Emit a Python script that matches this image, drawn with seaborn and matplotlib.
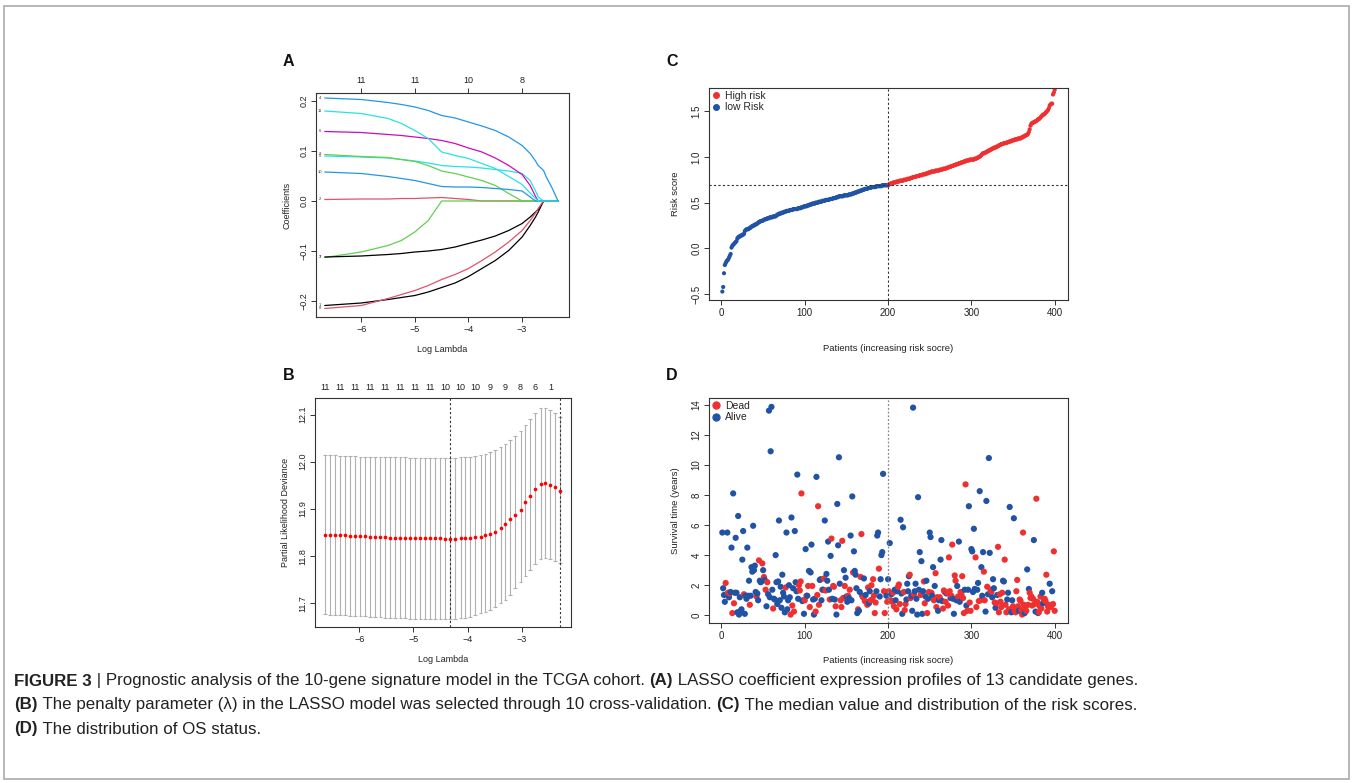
import numpy as np
import pandas as pd
import matplotlib
matplotlib.use("Agg")
import matplotlib.pyplot as plt
import seaborn as sns
from matplotlib.patches import Rectangle
from matplotlib.lines import Line2D

sns.set_theme(style="white")
plt.rcParams['font.family'] = ['Liberation Sans', 'DejaVu Sans']

# ---------------- Panel A: LASSO coefficient paths ----------------
lasso_loglambda = [-6.68, -6.0, -5.5, -5.25, -5.0, -4.75, -4.5, -4.25, -4.0, -3.75,
                   -3.5, -3.25, -3.0, -2.85, -2.75, -2.7, -2.6, -2.55, -2.45, -2.33]
coef_g1 = [-0.209, -0.204, -0.197, -0.193, -0.189, -0.182, -0.173, -0.164, -0.151, -0.135,
           -0.119, -0.099, -0.072, -0.049, -0.032, -0.022, 0, 0, 0, 0]
coef_g2 = [0.003, 0.004, 0.004, 0.005, 0.005, 0.006, 0.007, 0.005, 0.003, 0,
           0, 0, 0, 0, 0, 0, 0, 0, 0, 0]
coef_g3 = [-0.113, -0.102, -0.089, -0.079, -0.062, -0.039, 0, 0, 0, 0,
           0, 0, 0, 0, 0, 0, 0, 0, 0, 0]
coef_g4 = [0.206, 0.203, 0.197, 0.193, 0.188, 0.181, 0.171, 0.166, 0.158, 0.150,
           0.141, 0.128, 0.111, 0.095, 0.080, 0.071, 0.061, 0.048, 0.028, 0]
coef_g5 = [0.090, 0.088, 0.086, 0.083, 0.080, 0.076, 0.071, 0.069, 0.068, 0.066,
           0.063, 0.060, 0.055, 0.041, 0.020, 0.008, 0, 0, 0, 0]
coef_g6 = [0.139, 0.137, 0.133, 0.131, 0.128, 0.125, 0.121, 0.115, 0.106, 0.098,
           0.086, 0.071, 0.053, 0.031, 0.009, 0, 0, 0, 0, 0]
coef_g7 = [-0.112, -0.110, -0.107, -0.105, -0.102, -0.100, -0.097, -0.092, -0.085, -0.078,
           -0.070, -0.059, -0.045, -0.032, -0.022, -0.017, 0, 0, 0, 0]
coef_g8 = [-0.215, -0.209, -0.195, -0.187, -0.179, -0.169, -0.157, -0.147, -0.135, -0.119,
           -0.102, -0.082, -0.059, -0.039, -0.024, -0.015, 0, 0, 0, 0]
coef_g9 = [0.093, 0.089, 0.087, 0.083, 0.079, 0.071, 0.060, 0.055, 0.048, 0.041,
           0.031, 0.015, 0, 0, 0, 0, 0, 0, 0, 0]
coef_g10 = [0.058, 0.055, 0.049, 0.045, 0.041, 0.035, 0.029, 0.028, 0.028, 0.027,
            0.025, 0.023, 0.020, 0.008, 0, 0, 0, 0, 0, 0]
coef_g11 = [0.180, 0.175, 0.165, 0.155, 0.141, 0.125, 0.098, 0.091, 0.085, 0.075,
            0.065, 0.049, 0.033, 0.016, 0.005, 0, 0, 0, 0, 0]
gene_labels = ['1', '2', '3', '4', '5', '6', '7', '8', '9', '10', '11']
A_top_ticks = [-6, -5, -4, -3]
A_top_labels = ['11', '11', '10', '8']

# ---------------- Panel B: cross-validation ----------------
cv_loglambda = [-6.63, -6.54, -6.45, -6.35, -6.26, -6.17, -6.08, -5.98, -5.89, -5.80,
                -5.71, -5.61, -5.52, -5.43, -5.34, -5.24, -5.15, -5.06, -4.97, -4.87,
                -4.78, -4.69, -4.60, -4.50, -4.41, -4.32, -4.23, -4.13, -4.04, -3.95,
                -3.86, -3.76, -3.67, -3.58, -3.49, -3.39, -3.30, -3.21, -3.12, -3.02,
                -2.93, -2.84, -2.75, -2.65, -2.56, -2.47, -2.38, -2.29]
cv_mean = [11.845, 11.845, 11.845, 11.844, 11.844, 11.843, 11.843, 11.842, 11.842, 11.841,
           11.841, 11.840, 11.840, 11.839, 11.839, 11.839, 11.838, 11.838, 11.838, 11.838,
           11.838, 11.838, 11.838, 11.838, 11.837, 11.837, 11.837, 11.838, 11.838, 11.839,
           11.840, 11.841, 11.844, 11.847, 11.852, 11.859, 11.868, 11.879, 11.888, 11.898,
           11.914, 11.928, 11.943, 11.953, 11.955, 11.950, 11.946, 11.939]
cv_upper = [12.014, 12.014, 12.014, 12.013, 12.013, 12.012, 12.012, 12.011, 12.011, 12.011,
            12.010, 12.010, 12.010, 12.009, 12.009, 12.009, 12.009, 12.008, 12.008, 12.008,
            12.008, 12.008, 12.008, 12.008, 12.008, 12.008, 12.008, 12.009, 12.009, 12.010,
            12.012, 12.014, 12.016, 12.020, 12.025, 12.032, 12.038, 12.046, 12.055, 12.065,
            12.077, 12.091, 12.104, 12.113, 12.114, 12.110, 12.103, 12.095]
cv_lower = [11.677, 11.676, 11.676, 11.675, 11.675, 11.674, 11.674, 11.673, 11.673, 11.672,
            11.671, 11.671, 11.670, 11.670, 11.669, 11.669, 11.669, 11.668, 11.668, 11.668,
            11.668, 11.668, 11.668, 11.668, 11.668, 11.668, 11.668, 11.669, 11.670, 11.672,
            11.675, 11.679, 11.682, 11.687, 11.693, 11.700, 11.708, 11.718, 11.732, 11.745,
            11.758, 11.770, 11.784, 11.794, 11.797, 11.793, 11.790, 11.785]
B_top_labels = ['11', '11', '11', '11', '11', '11', '11', '11', '10', '10', '10', '9', '9', '8', '6', '1']
lambda_min = -4.32
lambda_1se = -2.29

# ---------------- Panel C: risk score ----------------
risk_score = [
    -0.47, -0.42, -0.27, -0.18, -0.16, -0.14, -0.13, -0.12, -0.10, -0.08,
    -0.06, 0.01, 0.03, 0.04, 0.05, 0.06, 0.07, 0.08, 0.11, 0.12,
    0.13, 0.13, 0.14, 0.14, 0.15, 0.15, 0.16, 0.19, 0.20, 0.21,
    0.21, 0.21, 0.22, 0.22, 0.23, 0.24, 0.24, 0.25, 0.25, 0.26,
    0.26, 0.27, 0.27, 0.28, 0.29, 0.29, 0.30, 0.30, 0.30, 0.31,
    0.31, 0.32, 0.32, 0.32, 0.33, 0.33, 0.33, 0.34, 0.34, 0.34,
    0.34, 0.35, 0.35, 0.35, 0.35, 0.36, 0.37, 0.37, 0.38, 0.38,
    0.38, 0.39, 0.39, 0.39, 0.40, 0.40, 0.40, 0.41, 0.41, 0.41,
    0.41, 0.42, 0.42, 0.42, 0.42, 0.43, 0.43, 0.43, 0.43, 0.43,
    0.43, 0.44, 0.44, 0.44, 0.44, 0.45, 0.45, 0.45, 0.46, 0.46,
    0.46, 0.46, 0.47, 0.47, 0.47, 0.48, 0.48, 0.48, 0.49, 0.49,
    0.49, 0.49, 0.50, 0.50, 0.50, 0.50, 0.51, 0.51, 0.51, 0.51,
    0.52, 0.52, 0.52, 0.52, 0.53, 0.53, 0.53, 0.53, 0.53, 0.54,
    0.54, 0.54, 0.54, 0.55, 0.55, 0.55, 0.55, 0.56, 0.56, 0.56,
    0.57, 0.57, 0.57, 0.57, 0.57, 0.57, 0.58, 0.58, 0.58, 0.58,
    0.58, 0.58, 0.59, 0.59, 0.59, 0.59, 0.60, 0.60, 0.60, 0.61,
    0.61, 0.61, 0.62, 0.62, 0.62, 0.63, 0.63, 0.63, 0.64, 0.64,
    0.64, 0.65, 0.65, 0.65, 0.65, 0.66, 0.66, 0.66, 0.66, 0.67,
    0.67, 0.67, 0.67, 0.67, 0.67, 0.68, 0.68, 0.68, 0.68, 0.68,
    0.68, 0.68, 0.69, 0.69, 0.69, 0.69, 0.69, 0.69, 0.69, 0.69,
    0.70, 0.70, 0.71, 0.71, 0.71, 0.72, 0.72, 0.72, 0.72, 0.73,
    0.73, 0.73, 0.73, 0.74, 0.74, 0.74, 0.74, 0.74, 0.75, 0.75,
    0.75, 0.75, 0.76, 0.76, 0.76, 0.76, 0.77, 0.77, 0.77, 0.78,
    0.78, 0.78, 0.78, 0.79, 0.79, 0.79, 0.79, 0.80, 0.80, 0.80,
    0.80, 0.81, 0.81, 0.81, 0.81, 0.82, 0.82, 0.82, 0.83, 0.83,
    0.83, 0.84, 0.84, 0.84, 0.84, 0.84, 0.85, 0.85, 0.85, 0.85,
    0.85, 0.86, 0.86, 0.86, 0.86, 0.87, 0.87, 0.87, 0.87, 0.88,
    0.88, 0.88, 0.89, 0.89, 0.89, 0.90, 0.90, 0.90, 0.91, 0.91,
    0.91, 0.92, 0.92, 0.92, 0.93, 0.93, 0.93, 0.94, 0.94, 0.94,
    0.95, 0.95, 0.95, 0.96, 0.96, 0.96, 0.96, 0.97, 0.97, 0.97,
    0.97, 0.97, 0.97, 0.98, 0.98, 0.98, 0.99, 0.99, 1.00, 1.00,
    1.01, 1.02, 1.03, 1.04, 1.04, 1.04, 1.05, 1.05, 1.06, 1.06,
    1.07, 1.07, 1.08, 1.08, 1.09, 1.09, 1.10, 1.10, 1.10, 1.11,
    1.11, 1.12, 1.12, 1.13, 1.13, 1.14, 1.14, 1.14, 1.15, 1.15,
    1.15, 1.15, 1.16, 1.16, 1.16, 1.17, 1.17, 1.17, 1.18, 1.18,
    1.18, 1.19, 1.19, 1.19, 1.19, 1.20, 1.20, 1.20, 1.20, 1.21,
    1.21, 1.22, 1.22, 1.23, 1.23, 1.24, 1.24, 1.25, 1.27, 1.30,
    1.34, 1.36, 1.37, 1.37, 1.38, 1.38, 1.39, 1.39, 1.40, 1.41,
    1.41, 1.42, 1.43, 1.44, 1.45, 1.46, 1.46, 1.47, 1.48, 1.49,
    1.50, 1.51, 1.53, 1.56, 1.57, 1.58, 1.58, 1.68, 1.70, 1.73,
]
risk_cutoff = 0.69
risk_group = ['low Risk'] * 200 + ['High risk'] * 200

# ---------------- Panel D: survival status ----------------
os_time = [
    5.5, 1.8, 1.35, 0.9, 2.15, 1.4, 5.5, 1.5, 1.2, 1.45,
    1.55, 4.5, 0.15, 8.1, 0.8, 1.5, 5.15, 1.5, 0.2, 6.6,
    0.05, 1.2, 0.3, 0.4, 3.7, 5.6, 1.4, 0.1, 1.3, 1.1,
    4.5, 1.3, 2.3, 0.7, 1.3, 3.2, 2.9, 5.95, 3.0, 3.3,
    1.55, 1.25, 1.45, 1.0, 3.65, 2.3, 2.2, 2.25, 3.45, 3.0,
    2.55, 2.35, 1.7, 0.6, 2.2, 1.4, 13.6, 1.2, 10.9, 13.85,
    1.7, 0.45, 1.1, 1.05, 4.0, 2.2, 0.75, 2.25, 6.3, 1.0,
    1.9, 0.5, 2.7, 1.5, 1.25, 0.2, 1.85, 5.5, 0.4, 1.0,
    2.0, 1.2, 0.05, 6.5, 0.65, 1.8, 0.25, 5.6, 2.2, 1.6,
    9.35, 1.1, 2.0, 1.65, 2.25, 8.1, 0.95, 1.0, 0.1, 1.0,
    4.4, 1.3, 1.3, 1.95, 2.95, 0.55, 2.85, 4.7, 1.95, 1.05,
    0.05, 1.1, 0.25, 9.2, 1.35, 7.25, 0.7, 2.35, 2.4, 1.0,
    1.7, 1.7, 2.45, 6.3, 1.65, 2.75, 2.3, 4.9, 1.7, 1.05,
    3.95, 5.1, 1.1, 1.95, 1.9, 1.05, 0.6, 0.05, 7.4, 4.65,
    10.5, 2.1, 1.0, 0.55, 4.95, 1.15, 3.0, 1.95, 2.5, 1.25,
    0.9, 1.3, 1.15, 1.7, 5.3, 1.0, 7.9, 2.85, 4.25, 2.95,
    2.7, 1.8, 0.15, 0.4, 0.3, 1.55, 2.55, 5.4, 1.3, 1.2,
    2.45, 0.95, 1.35, 0.9, 0.7, 1.85, 0.8, 1.6, 1.0, 2.0,
    1.05, 2.4, 1.3, 0.15, 0.85, 1.6, 5.3, 5.5, 3.1, 1.25,
    2.4, 4.0, 4.2, 9.4, 1.6, 0.15, 1.55, 1.3, 0.9, 2.4,
    1.6, 4.8, 1.0, 1.4, 0.9, 1.5, 0.6, 1.7, 1.0, 0.4,
    1.6, 1.9, 2.05, 0.75, 6.35, 1.45, 0.1, 5.85, 1.55, 0.35,
    0.75, 1.05, 2.1, 1.6, 2.6, 2.7, 1.15, 1.3, 0.3, 13.8,
    1.4, 1.6, 2.1, 1.1, 0.05, 7.85, 1.7, 4.2, 1.35, 3.6,
    0.1, 1.6, 2.25, 0.8, 1.25, 2.3, 0.15, 1.1, 1.55, 5.5,
    5.2, 1.5, 1.3, 3.2, 1.0, 1.95, 2.8, 0.55, 1.2, 0.3,
    1.0, 1.2, 3.7, 5.0, 0.95, 0.45, 1.65, 1.55, 0.9, 1.45,
    1.5, 0.65, 3.85, 1.6, 1.15, 1.3, 4.7, 1.1, 0.1, 2.65,
    2.3, 1.0, 1.95, 1.25, 4.9, 0.9, 1.55, 1.4, 2.6, 1.15,
    0.15, 1.7, 8.7, 0.65, 0.3, 1.7, 7.25, 0.85, 0.3, 4.4,
    4.25, 1.55, 5.75, 1.75, 3.85, 0.55, 1.7, 2.15, 0.95, 8.25,
    1.0, 3.2, 1.3, 4.2, 2.9, 1.0, 0.25, 7.6, 1.9, 1.4,
    10.45, 4.15, 1.7, 1.55, 1.2, 2.4, 1.8, 0.85, 0.5, 0.8,
    1.35, 4.55, 0.2, 1.4, 0.9, 0.55, 1.5, 2.3, 2.25, 3.7,
    0.7, 0.2, 1.05, 1.5, 0.4, 7.2, 0.4, 0.2, 1.0, 0.6,
    6.45, 0.3, 0.2, 1.6, 2.35, 0.6, 0.3, 1.05, 0.95, 0.35,
    0.05, 5.5, 0.7, 0.15, 0.6, 0.3, 3.05, 0.7, 1.75, 1.5,
    1.15, 1.25, 0.65, 1.1, 5.0, 0.75, 0.25, 7.75, 0.9, 0.15,
    0.2, 0.6, 1.25, 0.45, 1.5, 0.8, 1.05, 1.1, 0.95, 2.7,
    0.25, 0.6, 0.7, 2.1, 0.55, 0.65, 1.6, 0.75, 4.25, 0.3,
]
os_dead = [
    0, 0, 0, 0, 1, 0, 0, 1, 0, 1,
    0, 0, 1, 0, 1, 0, 0, 0, 0, 0,
    0, 0, 0, 0, 0, 0, 1, 0, 0, 0,
    0, 0, 0, 1, 0, 0, 0, 0, 0, 0,
    0, 1, 0, 0, 1, 0, 0, 0, 1, 0,
    1, 0, 1, 0, 1, 0, 0, 0, 0, 0,
    0, 1, 0, 0, 0, 0, 0, 0, 0, 0,
    0, 0, 0, 0, 0, 0, 1, 0, 0, 0,
    0, 0, 1, 0, 1, 0, 1, 0, 0, 0,
    0, 0, 1, 1, 1, 1, 0, 0, 0, 1,
    0, 1, 0, 1, 0, 1, 0, 0, 1, 0,
    0, 0, 1, 0, 1, 1, 1, 0, 0, 0,
    1, 0, 1, 0, 1, 0, 0, 0, 0, 1,
    0, 1, 0, 1, 1, 0, 1, 0, 0, 0,
    0, 0, 1, 1, 1, 1, 0, 1, 0, 0,
    0, 1, 0, 1, 0, 0, 0, 1, 0, 0,
    0, 0, 0, 1, 0, 0, 1, 1, 0, 1,
    0, 1, 0, 1, 1, 1, 0, 0, 1, 1,
    1, 1, 1, 1, 1, 0, 0, 0, 1, 0,
    0, 0, 0, 0, 1, 1, 1, 0, 1, 0,
    1, 0, 1, 0, 1, 1, 1, 0, 0, 1,
    0, 1, 1, 1, 0, 0, 0, 0, 1, 1,
    1, 0, 0, 0, 0, 1, 1, 0, 0, 0,
    1, 0, 0, 0, 0, 0, 0, 0, 1, 0,
    0, 0, 1, 1, 0, 0, 1, 0, 1, 0,
    0, 1, 0, 0, 1, 0, 1, 1, 1, 0,
    0, 1, 0, 0, 0, 1, 1, 1, 1, 0,
    1, 1, 1, 1, 0, 1, 1, 0, 0, 1,
    1, 0, 0, 1, 0, 0, 1, 1, 1, 1,
    1, 0, 1, 0, 1, 0, 0, 1, 1, 0,
    0, 0, 0, 0, 1, 1, 0, 0, 1, 0,
    1, 0, 0, 0, 1, 1, 0, 0, 1, 0,
    0, 0, 1, 1, 0, 0, 0, 1, 0, 1,
    0, 1, 1, 1, 1, 1, 1, 0, 0, 1,
    1, 1, 0, 0, 1, 0, 1, 0, 0, 1,
    0, 1, 1, 1, 1, 1, 0, 1, 1, 1,
    1, 1, 1, 0, 1, 1, 0, 1, 0, 1,
    1, 1, 1, 1, 0, 1, 0, 1, 1, 0,
    1, 1, 1, 1, 0, 0, 1, 1, 1, 1,
    1, 1, 1, 0, 1, 1, 0, 1, 1, 1,
]

# ---------------- Figure ----------------
W, H = 1352, 783
fig = plt.figure(figsize=(W / 100, H / 100), dpi=100)
fig.patch.set_facecolor('white')


def add_axes_px(x0, y0, x1, y1):
    return fig.add_axes([x0 / W, 1 - y1 / H, (x1 - x0) / W, (y1 - y0) / H])


def r_style(ax, size=6.5):
    for s in ax.spines.values():
        s.set_visible(True)
        s.set_color('#333333')
        s.set_linewidth(0.8)
    ax.tick_params(direction='out', length=3.5, width=0.7, colors='#333333',
                   labelcolor='#222222', labelsize=size, pad=2,
                   bottom=True, left=True)
    ax.tick_params(axis='y', labelrotation=90)
    for lab in ax.get_yticklabels():
        lab.set_va('center')
    ax.grid(False)


R_COLS = ['#000000', '#DF536B', '#61D04F', '#2297E6', '#28E2E5', '#CD0BBC']
RED = '#EE3030'
BLUE = '#2153A5'

# ---- Panel A
axA = add_axes_px(316, 93, 569, 317)
coef_all = [coef_g1, coef_g2, coef_g3, coef_g4, coef_g5, coef_g6, coef_g7,
            coef_g8, coef_g9, coef_g10, coef_g11]
dfA = pd.DataFrame({
    'loglambda': np.tile(lasso_loglambda, len(coef_all)),
    'coef': np.concatenate(coef_all),
    'gene': np.repeat(gene_labels, len(lasso_loglambda)),
})
palA = {g: R_COLS[i % 6] for i, g in enumerate(gene_labels)}
sns.lineplot(data=dfA, x='loglambda', y='coef', hue='gene', hue_order=gene_labels,
             palette=palA, estimator=None, sort=False, legend=False, lw=0.9, ax=axA)
for g, c in zip(gene_labels, coef_all):
    axA.text(-6.77, c[0], g, fontsize=3, ha='center', va='center', color='#333333')
axA.set_xlim(-6.843, -2.126)
axA.set_ylim(-0.232, 0.216)
axA.set_xticks([-6, -5, -4, -3])
axA.set_yticks([-0.2, -0.1, 0.0, 0.1, 0.2])
r_style(axA)
axA.set_xlabel('Log Lambda', fontsize=6.5, labelpad=8, color='#222222')
axA.set_ylabel('Coefficients', fontsize=6.5, labelpad=6, color='#222222')
secA = axA.secondary_xaxis('top')
secA.set_xticks(A_top_ticks)
secA.set_xticklabels(A_top_labels)
secA.tick_params(direction='out', length=3.5, width=0.7, colors='#333333',
                 labelcolor='#222222', labelsize=6.5, pad=2)
secA.spines['top'].set_visible(False)

# ---- Panel B
axB = add_axes_px(315, 398, 571, 627)
lamB = np.array(cv_loglambda)
axB.vlines(lamB, cv_lower, cv_upper, color='#B0B0B0', lw=0.8)
axB.hlines(cv_upper, lamB - 0.035, lamB + 0.035, color='#B0B0B0', lw=0.8)
axB.hlines(cv_lower, lamB - 0.035, lamB + 0.035, color='#B0B0B0', lw=0.8)
sns.scatterplot(x=cv_loglambda, y=cv_mean, color='#FF0000', s=7, linewidth=0, ax=axB, zorder=3)
axB.axvline(lambda_min, color='#333333', lw=0.8, ls=(0, (2, 2)))
axB.axvline(lambda_1se, color='#333333', lw=0.8, ls=(0, (2, 2)))
axB.set_xlim(-6.819, -2.088)
axB.set_ylim(11.650, 12.135)
axB.set_xticks([-6, -5, -4, -3])
axB.set_yticks([11.7, 11.8, 11.9, 12.0, 12.1])
axB.set_yticklabels(['11.7', '11.8', '11.9', '12.0', '12.1'])
r_style(axB)
axB.set_xlabel('Log Lambda', fontsize=6.5, labelpad=8, color='#222222')
axB.set_ylabel('Partial Likelihood Deviance', fontsize=6.5, labelpad=6, color='#222222')
secB = axB.secondary_xaxis('top')
secB.set_xticks(cv_loglambda[0::3])
secB.set_xticklabels(B_top_labels)
secB.tick_params(direction='out', length=0, colors='#333333', labelcolor='#222222',
                 labelsize=6.5, pad=4)
secB.spines['top'].set_visible(False)

# ---- Panel C
axC = add_axes_px(709, 88, 1068, 300)
dfC = pd.DataFrame({'patient': np.arange(1, len(risk_score) + 1),
                    'risk': risk_score, 'group': risk_group})
sns.scatterplot(data=dfC, x='patient', y='risk', hue='group',
                hue_order=['High risk', 'low Risk'],
                palette={'High risk': RED, 'low Risk': BLUE},
                s=9, linewidth=0, legend=False, ax=axC)
axC.axhline(risk_cutoff, color='#333333', lw=0.8, ls=(0, (2, 2)))
axC.axvline(200, color='#333333', lw=0.8, ls=(0, (2, 2)))
axC.set_xlim(-15, 416)
axC.set_ylim(-0.562, 1.751)
axC.set_xticks([0, 100, 200, 300, 400])
axC.set_yticks([-0.5, 0.0, 0.5, 1.0, 1.5])
r_style(axC, 7)
axC.set_xlabel('Patients (increasing risk socre)', fontsize=6.8, labelpad=19, color='#222222')
axC.set_ylabel('Risk score', fontsize=6.8, labelpad=8, color='#222222')
hC = [Line2D([], [], ls='none', marker='o', ms=4, color=RED),
      Line2D([], [], ls='none', marker='o', ms=4, color=BLUE)]
axC.legend(hC, ['High risk', 'low Risk'], loc='upper left', frameon=False,
           fontsize=7.5, handlelength=0.8, handletextpad=0.4, labelspacing=0.1,
           borderaxespad=0.1, borderpad=0.2)

# ---- Panel D
axD = add_axes_px(709, 398, 1068, 623)
dfD = pd.DataFrame({'patient': np.arange(1, len(os_time) + 1),
                    'time': os_time,
                    'status': ['Dead' if d == 1 else 'Alive' for d in os_dead]})
sns.scatterplot(data=dfD, x='patient', y='time', hue='status',
                hue_order=['Alive', 'Dead'],
                palette={'Dead': RED, 'Alive': BLUE},
                s=20, linewidth=0, legend=False, ax=axD)
axD.axvline(200, color='#888888', lw=0.9, ls=(0, (1.5, 1.5)))
axD.set_xlim(-15, 416)
axD.set_ylim(-0.51, 14.44)
axD.set_xticks([0, 100, 200, 300, 400])
axD.set_yticks([0, 2, 4, 6, 8, 10, 12, 14])
r_style(axD, 7)
axD.set_xlabel('Patients (increasing risk socre)', fontsize=6.8, labelpad=11, color='#222222')
axD.set_ylabel('Survival time (years)', fontsize=6.8, labelpad=8, color='#222222')
hD = [Line2D([], [], ls='none', marker='o', ms=5, color=RED),
      Line2D([], [], ls='none', marker='o', ms=5, color=BLUE)]
axD.legend(hD, ['Dead', 'Alive'], loc='upper left', frameon=False,
           fontsize=7.5, handlelength=0.8, handletextpad=0.4, labelspacing=0.1,
           borderaxespad=0.1, borderpad=0.2)

# ---- Panel letters
for letter, (px, py) in {'A': (283, 62), 'B': (283, 375), 'C': (666, 62), 'D': (666, 375)}.items():
    fig.text(px / W, 1 - py / H, letter, fontsize=11.5, fontweight='bold',
             ha='left', va='center', color='#111111')

# ---- Outer frame
fig.patches.append(Rectangle((4 / W, 1 - 779 / H), (1349 - 4) / W, (779 - 6) / H,
                             transform=fig.transFigure, fill=False,
                             ec='#AAAAAA', lw=1.2))

# ---- Caption (rich text placed piece by piece)
caption_lines = [
    [("FIGURE 3", 'bold'), (" | Prognostic analysis of the 10-gene signature model in the TCGA cohort. ", 'normal'),
     ("(A)", 'bold'), (" LASSO coefficient expression profiles of 13 candidate genes.", 'normal')],
    [("(B)", 'bold'), (" The penalty parameter (λ) in the LASSO model was selected through 10 cross-validation. ", 'normal'),
     ("(C)", 'bold'), (" The median value and distribution of the risk scores.", 'normal')],
    [("(D)", 'bold'), (" The distribution of OS status.", 'normal')],
]
cap_family = ['Liberation Sans Narrow', 'Liberation Sans', 'DejaVu Sans']
renderer = fig.canvas.get_renderer()


def line_width(parts, fs):
    total = 0
    for s, w in parts:
        t = fig.text(0, 0, s, fontsize=fs, fontweight=w, family=cap_family)
        total += t.get_window_extent(renderer).width
        t.remove()
    return total


fs = 10.0
target = 1138 - 14
fs = fs * target / line_width(caption_lines[0], fs)
for parts, ypx in zip(caption_lines, [681, 705, 729]):
    x = 14
    for s, w in parts:
        t = fig.text(x / W, 1 - ypx / H, s, fontsize=fs, fontweight=w, family=cap_family,
                     ha='left', va='center', color='#222222')
        x += t.get_window_extent(renderer).width

fig.savefig('out.png', dpi=100, facecolor='white')
